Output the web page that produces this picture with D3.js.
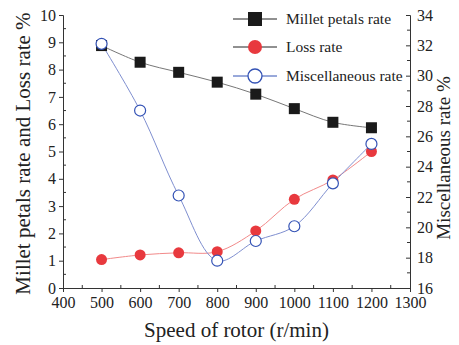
<!DOCTYPE html>
<html>
<head>
<meta charset="utf-8">
<script src="https://cdn.jsdelivr.net/npm/d3@7"></script>
<style>
  body { margin: 0; background: #fff; }
</style>
</head>
<body>
<svg id="chart"></svg>
<script>
// data
var speeds = [500, 600, 700, 800, 900, 1000, 1100, 1200];
var milletRate = [8.88, 8.27, 7.9, 7.54, 7.1, 6.57, 6.07, 5.87];
var lossRate = [1.04, 1.21, 1.29, 1.33, 2.09, 3.25, 3.96, 5.0];
var miscRate = [32.1, 27.7, 22.1, 17.8, 19.1, 20.07, 22.9, 25.5];
var xTicks = [400, 500, 600, 700, 800, 900, 1000, 1100, 1200, 1300];
var leftTicks = [0, 1, 2, 3, 4, 5, 6, 7, 8, 9, 10];
var rightTicks = [16, 18, 20, 22, 24, 26, 28, 30, 32, 34];

var FONT = '"Liberation Serif", "Times New Roman", serif';
var W = 459, H = 345;
var margin = { top: 15, right: 49, bottom: 57, left: 63 };
var width = W - margin.left - margin.right;
var height = H - margin.top - margin.bottom;

var svg = d3.select('#chart').attr('width', W).attr('height', H)
    .style('font-family', FONT);
var g = svg.append('g')
    .attr('transform', 'translate(' + margin.left + ',' + margin.top + ')');

var xScale = d3.scaleLinear().domain([400, 1300]).range([0, width]);
var yLeft = d3.scaleLinear().domain([0, 10]).range([height, 0]);
var yRight = d3.scaleLinear().domain([16, 34]).range([height, 0]);

function styleAxis(sel) {
    sel.attr('font-family', null);
    sel.selectAll('path, line').attr('stroke', '#333').attr('stroke-width', 1);
    sel.selectAll('text').style('font-size', '16px').style('font-family', FONT).attr('fill', '#222');
}

// minor ticks
var xMinor = d3.range(450, 1300, 100);
g.append('g').selectAll('line').data(xMinor).enter().append('line')
    .attr('x1', function (d) { return xScale(d); }).attr('x2', function (d) { return xScale(d); })
    .attr('y1', height).attr('y2', height - 3).attr('stroke', '#333');
g.append('g').selectAll('line').data(d3.range(0.5, 10, 1)).enter().append('line')
    .attr('y1', function (d) { return yLeft(d); }).attr('y2', function (d) { return yLeft(d); })
    .attr('x1', 0).attr('x2', 3).attr('stroke', '#333');
g.append('g').selectAll('line').data(d3.range(17, 34, 2)).enter().append('line')
    .attr('y1', function (d) { return yRight(d); }).attr('y2', function (d) { return yRight(d); })
    .attr('x1', width).attr('x2', width - 3).attr('stroke', '#333');

// axes
g.append('g')
    .attr('transform', 'translate(0,' + height + ')')
    .call(d3.axisBottom(xScale).tickValues(xTicks).tickSize(4).tickPadding(5).tickFormat(d3.format('d')))
    .call(styleAxis);
g.append('g')
    .call(d3.axisLeft(yLeft).tickValues(leftTicks).tickSize(4).tickPadding(3).tickFormat(d3.format('d')))
    .call(styleAxis);
g.append('g')
    .attr('transform', 'translate(' + width + ',0)')
    .call(d3.axisRight(yRight).tickValues(rightTicks).tickSize(-4).tickPadding(7).tickFormat(d3.format('d')))
    .call(styleAxis);

// lines
var curve = d3.curveCatmullRom.alpha(0.5);
var lineLeft = function (vals) {
    return d3.line().curve(curve)
        .x(function (d, i) { return xScale(speeds[i]); })
        .y(function (d) { return yLeft(d); })(vals);
};
var lineRight = d3.line().curve(curve)
    .x(function (d, i) { return xScale(speeds[i]); })
    .y(function (d) { return yRight(d); });

g.append('path').attr('d', lineLeft(milletRate)).attr('fill', 'none').attr('stroke', '#777').attr('stroke-width', 1);
g.append('path').attr('d', lineLeft(lossRate)).attr('fill', 'none').attr('stroke', '#f28a8a').attr('stroke-width', 1);
g.append('path').attr('d', lineRight(miscRate)).attr('fill', 'none').attr('stroke', '#7f8fd0').attr('stroke-width', 1);

// markers
g.append('g').selectAll('rect').data(milletRate).enter().append('rect')
    .attr('x', function (d, i) { return xScale(speeds[i]) - 5.5; })
    .attr('y', function (d) { return yLeft(d) - 5.5; })
    .attr('width', 11).attr('height', 11).attr('fill', '#1a1a1a');
g.append('g').selectAll('circle').data(lossRate).enter().append('circle')
    .attr('cx', function (d, i) { return xScale(speeds[i]); })
    .attr('cy', function (d) { return yLeft(d); })
    .attr('r', 5.5).attr('fill', '#e8393e');
g.append('g').selectAll('circle').data(miscRate).enter().append('circle')
    .attr('cx', function (d, i) { return xScale(speeds[i]); })
    .attr('cy', function (d) { return yRight(d); })
    .attr('r', 5.5).attr('fill', '#fff').attr('stroke', '#3352b5').attr('stroke-width', 1.2);

// legend
var legend = svg.append('g').attr('transform', 'translate(233,0)');
var items = [
    { name: 'Millet petals rate', y: 19, type: 'rect', line: '#222' },
    { name: 'Loss rate', y: 47, type: 'dot', line: '#222' },
    { name: 'Miscellaneous rate', y: 76, type: 'open', line: '#3352b5' }
];
items.forEach(function (it) {
    legend.append('line').attr('x1', 0).attr('x2', 44).attr('y1', it.y).attr('y2', it.y)
        .attr('stroke', it.line).attr('stroke-width', 1);
    if (it.type === 'rect') {
        legend.append('rect').attr('x', 15).attr('y', it.y - 7).attr('width', 14).attr('height', 14).attr('fill', '#1a1a1a');
    } else if (it.type === 'dot') {
        legend.append('circle').attr('cx', 22).attr('cy', it.y).attr('r', 7).attr('fill', '#e8393e');
    } else {
        legend.append('circle').attr('cx', 22).attr('cy', it.y).attr('r', 7).attr('fill', '#fff')
            .attr('stroke', '#3352b5').attr('stroke-width', 1.3);
    }
    legend.append('text').attr('x', 53).attr('y', it.y + 5).style('font-size', '15.5px')
        .attr('fill', '#222').text(it.name);
});

// axis titles
svg.append('text')
    .attr('transform', 'translate(' + (margin.left + width / 2) + ',337)')
    .style('text-anchor', 'middle').style('font-size', '21px').attr('fill', '#222')
    .text('Speed of rotor (r/min)');
svg.append('text')
    .attr('transform', 'translate(30,' + (margin.top + height / 2 + 2) + ') rotate(-90)')
    .style('text-anchor', 'middle').style('font-size', '21px').attr('fill', '#222')
    .text('Millet petals rate and Loss rate %');
svg.append('text')
    .attr('transform', 'translate(450,158) rotate(-90)')
    .style('text-anchor', 'middle').style('font-size', '19px').attr('fill', '#222')
    .text('Miscellaneous rate %');
</script>
</body>
</html>
